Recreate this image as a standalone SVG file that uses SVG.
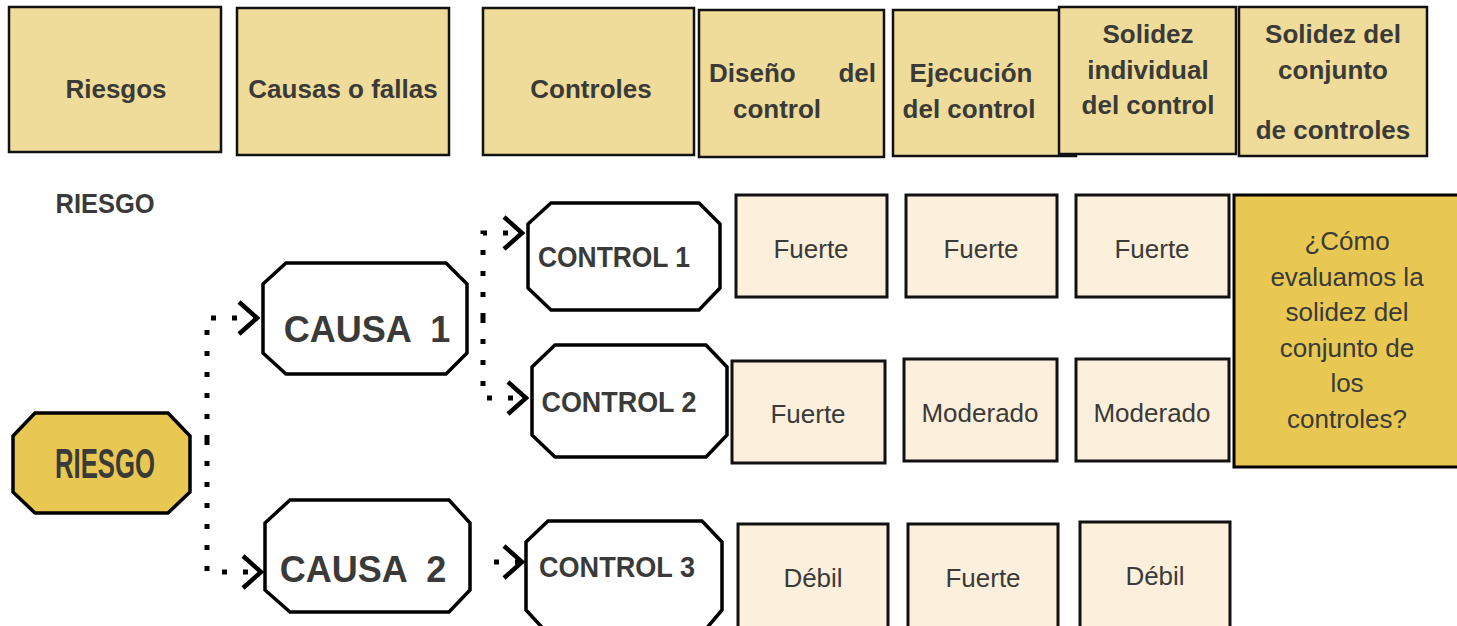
<svg xmlns="http://www.w3.org/2000/svg" width="1457" height="626" viewBox="0 0 1457 626">
<style>
.hdr{fill:#F0DC9A;stroke:#111;stroke-width:2.5}
.val{fill:#FCF0DC;stroke:#111;stroke-width:3}
.oct{fill:#fff;stroke:#000;stroke-width:3.5}
.gold{fill:#E8C853;stroke:#000;stroke-width:3.5}
.ht{font-family:"Liberation Sans",Arial,sans-serif;font-weight:bold;font-size:26px;fill:#3a3a38;text-anchor:middle}
.vt{font-family:"Liberation Sans",Arial,sans-serif;font-size:26px;fill:#3a3a38;text-anchor:middle}
.nt{font-family:"Liberation Sans",Arial,sans-serif;font-weight:bold;fill:#3a3a38;text-anchor:middle}
.con{fill:none;stroke:#000;stroke-width:5;stroke-dasharray:5 16;marker-end:url(#chev)}
</style>
<defs>
<marker id="chev" markerUnits="userSpaceOnUse" viewBox="0 0 24 36" markerWidth="24" markerHeight="36" refX="21" refY="18" orient="auto">
<path d="M2,2 L20,18 L2,34" fill="none" stroke="#000" stroke-width="4.5"/>
</marker>
</defs>

<g id="h-riesgos"><rect class="hdr" x="9" y="7" width="212" height="145"/><text class="ht" x="116" y="98">Riesgos</text></g>
<g id="h-causas"><rect class="hdr" x="237" y="8" width="212" height="147"/><text class="ht" x="343" y="98">Causas o fallas</text></g>
<g id="h-controles"><rect class="hdr" x="483" y="8" width="211" height="147"/><text class="ht" x="591" y="98">Controles</text></g>
<g id="h-diseno"><rect class="hdr" x="699" y="10" width="185" height="147"/><text class="ht" x="709" y="82" style="text-anchor:start">Diseño</text><text class="ht" x="876" y="82" style="text-anchor:end">del</text><text class="ht" x="777" y="118">control</text></g>
<g id="h-ejecucion"><rect class="hdr" x="893" y="10" width="183" height="146"/><text class="ht" x="971" y="82">Ejecución</text><text class="ht" x="969" y="118">del control</text></g>
<g id="h-solidez-ind"><rect class="hdr" x="1059" y="7" width="177" height="147"/><text class="ht" x="1148" y="43">Solidez</text><text class="ht" x="1148" y="79">individual</text><text class="ht" x="1148" y="114">del control</text></g>
<g id="h-solidez-conj"><rect class="hdr" x="1239" y="7" width="188" height="149"/><text class="ht" x="1333" y="43">Solidez del</text><text class="ht" x="1333" y="79">conjunto</text><text class="ht" x="1333" y="139">de controles</text></g>

<g id="label-riesgo"><text class="nt" x="105" y="213" font-size="28" textLength="99" lengthAdjust="spacingAndGlyphs">RIESGO</text></g>

<g id="connectors">
<path class="con" d="M207 440 V318 H258"/>
<path class="con" d="M207 440 V572 H262"/>
<path class="con" d="M483 318 V233 H523"/>
<path class="con" d="M483 318 V398 H527"/>
<path class="con" d="M494 562 H523"/>
</g>

<g id="riesgo"><path class="gold" d="M35 413 H168 L190 436 V492 L168 513 H35 L13 492 V436 Z"/><text class="nt" x="105" y="478" font-size="42" textLength="100" lengthAdjust="spacingAndGlyphs">RIESGO</text></g>
<g id="causa1"><path class="oct" d="M286 263 H446 L467 284 V353 L446 374 H286 L263 353 V284 Z"/><text class="nt" x="367" y="342" font-size="36" xml:space="preserve">CAUSA  1</text></g>
<g id="causa2"><path class="oct" d="M290 500 H449 L470 523 V590 L449 612 H290 L265 590 V523 Z"/><text class="nt" x="363" y="582" font-size="36" xml:space="preserve">CAUSA  2</text></g>
<g id="control1"><path class="oct" d="M551 203 H699 L720 224 V288 L699 310 H551 L528 288 V224 Z"/><text class="nt" x="614" y="267" font-size="29" textLength="152" lengthAdjust="spacingAndGlyphs">CONTROL 1</text></g>
<g id="control2"><path class="oct" d="M555 345 H706 L727 367 V435 L706 457 H555 L532 435 V367 Z"/><text class="nt" x="619" y="412" font-size="29" textLength="155" lengthAdjust="spacingAndGlyphs">CONTROL 2</text></g>
<g id="control3"><path class="oct" d="M548 521 H702 L722 542 V610 L700 636 H550 L526 610 V542 Z"/><text class="nt" x="617" y="577" font-size="29" textLength="156" lengthAdjust="spacingAndGlyphs">CONTROL 3</text></g>

<g id="c1-diseno"><rect class="val" x="736" y="195" width="151" height="102"/><text class="vt" x="811" y="258">Fuerte</text></g>
<g id="c1-ejecucion"><rect class="val" x="906" y="195" width="151" height="102"/><text class="vt" x="981" y="258">Fuerte</text></g>
<g id="c1-solidez"><rect class="val" x="1076" y="195" width="153" height="102"/><text class="vt" x="1152" y="258">Fuerte</text></g>
<g id="c2-diseno"><rect class="val" x="732" y="361" width="153" height="102"/><text class="vt" x="808" y="423">Fuerte</text></g>
<g id="c2-ejecucion"><rect class="val" x="904" y="359" width="153" height="102"/><text class="vt" x="980" y="422">Moderado</text></g>
<g id="c2-solidez"><rect class="val" x="1076" y="359" width="153" height="102"/><text class="vt" x="1152" y="422">Moderado</text></g>
<g id="c3-diseno"><rect class="val" x="738" y="524" width="150" height="110"/><text class="vt" x="813" y="587">Débil</text></g>
<g id="c3-ejecucion"><rect class="val" x="908" y="524" width="150" height="110"/><text class="vt" x="983" y="587">Fuerte</text></g>
<g id="c3-solidez"><rect class="val" x="1080" y="522" width="150" height="110"/><text class="vt" x="1155" y="585">Débil</text></g>

<g id="pregunta"><rect class="gold" x="1234" y="195" width="240" height="272" style="stroke-width:3"/>
<text class="vt" x="1347"><tspan x="1347" y="250">¿Cómo</tspan><tspan x="1347" y="285.5">evaluamos la</tspan><tspan x="1347" y="321">solidez del</tspan><tspan x="1347" y="356.5">conjunto de</tspan><tspan x="1347" y="392">los</tspan><tspan x="1347" y="427.5">controles?</tspan></text></g>
</svg>
